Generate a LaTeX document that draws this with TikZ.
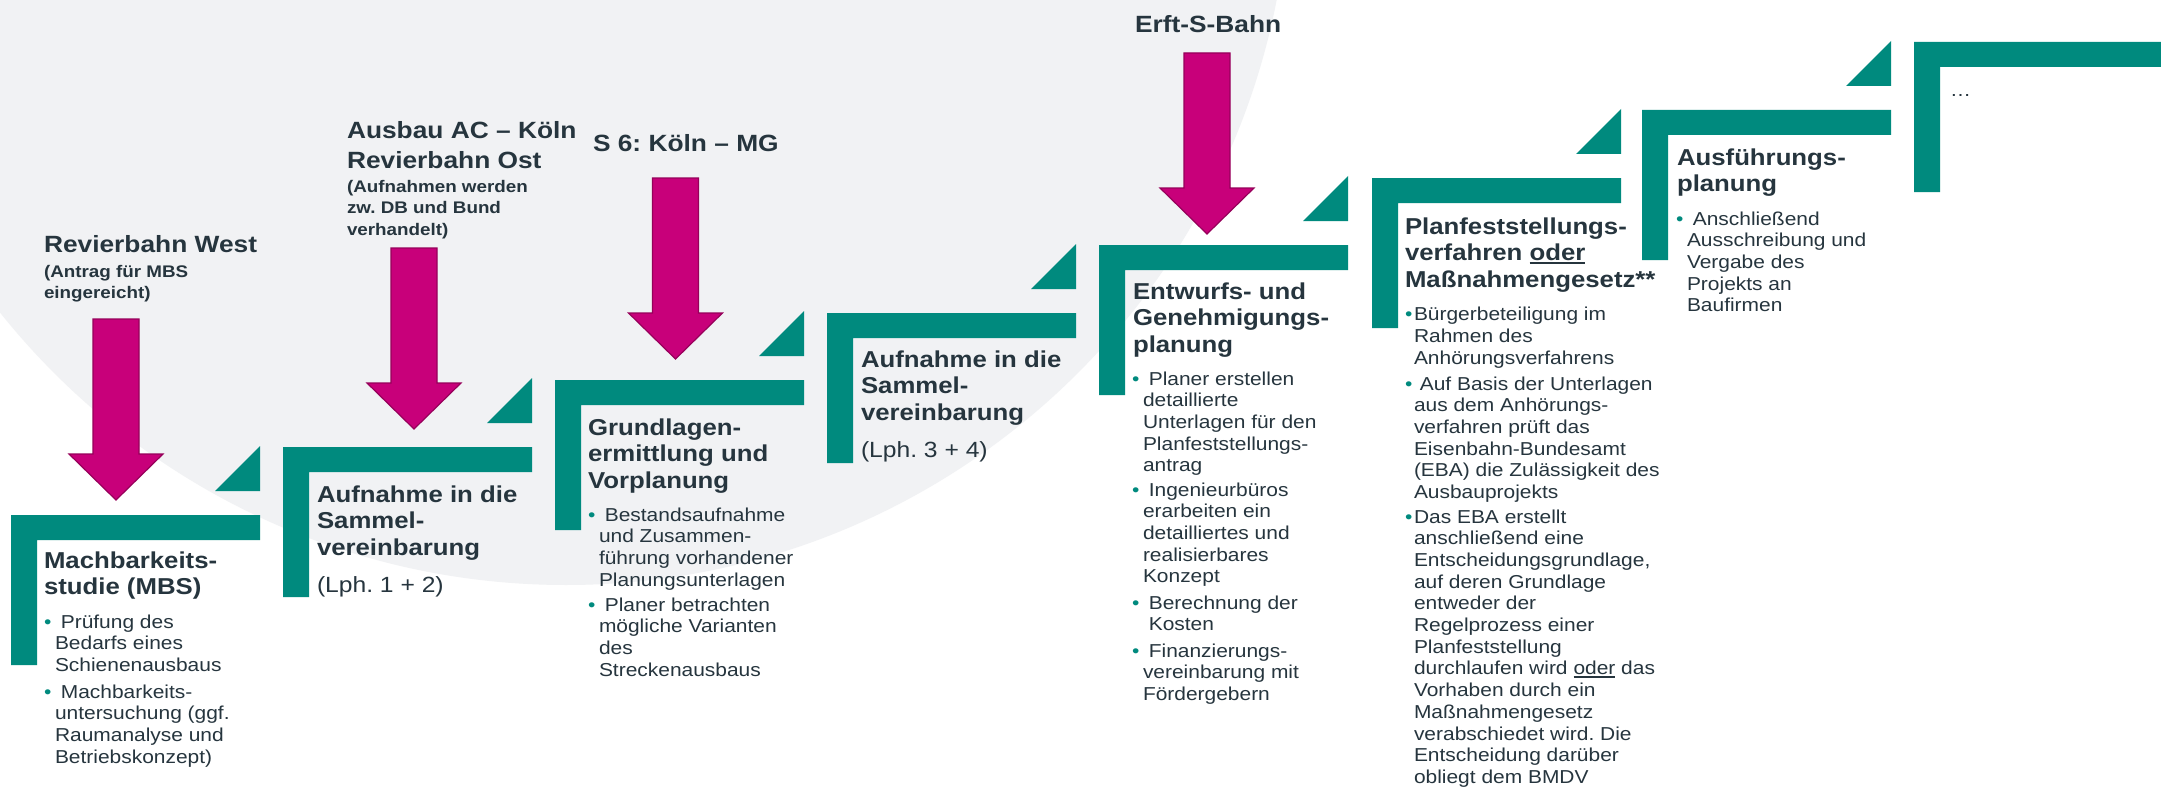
\documentclass[tikz,border=0pt]{standalone}
\usepackage{fontspec}
\setmainfont{Liberation Sans}[FakeStretch=1.12]
\frenchspacing
\definecolor{stepteal}{RGB}{0,138,126}
\definecolor{arrmag}{RGB}{200,0,122}
\definecolor{arrmagd}{RGB}{150,0,90}
\definecolor{bggray}{RGB}{241,242,244}
\definecolor{ink}{RGB}{38,53,62}
\newcommand\bul{\llap{\textcolor{stepteal}{•}\hspace{3.5pt}}}
\newcommand\bulb{\llap{\textcolor{stepteal}{•}\hspace{1.5pt}}}
\newcommand\ulw[2]{\setbox0\hbox{#2}\rlap{\rule[-3pt]{\wd0}{#1}}\box0\relax}
\tikzset{
  txt/.style={anchor=base west, align=left, inner sep=0pt, outer sep=0pt, text=ink},
  ttl/.style={txt, font=\bfseries\fontsize{23}{26.5}\selectfont},
  bdy/.style={txt, font=\fontsize{18.7}{21.7}\selectfont},
  lph/.style={txt, font=\fontsize{22}{26}\selectfont},
  hdr/.style={txt, font=\bfseries\fontsize{23.5}{30}\selectfont},
  sub/.style={txt, font=\bfseries\fontsize{16.8}{21.5}\selectfont},
  stepbar/.style={fill=stepteal},
  blockarr/.style={fill=arrmag, draw=arrmagd, line width=1.2pt, line join=miter},
}
\newcommand\stepshape[1]{%
  \fill[stepbar] (#1) -- ++(249,0) -- ++(0,25) -- ++(-223,0) -- ++(0,125) -- ++(-26,0) -- cycle;}
\newcommand\steptri[1]{%
  \fill[stepbar] ([shift={(204,-24)}]#1) -- ++(45,0) -- ++(0,-45) -- cycle;}
\newcommand\blockarrow[1]{%
  \draw[blockarr] ([shift={(-23,0)}]#1) -- ++(46,0) -- ++(0,135) -- ++(24,0) -- ++(-47,46) -- ++(-47,-46) -- ++(24,0) -- cycle;}
\begin{document}
\begin{tikzpicture}[x=1pt,y=-1pt]
\useasboundingbox (0,0) rectangle (2161,789);
\begin{scope}
  \clip (0,0) rectangle (2161,789);
  \fill[white] (0,0) rectangle (2161,789);
  \fill[bggray] (566,-139) circle [radius=724];
\end{scope}

% step origins (top-left corner of each bracket)
\coordinate (s1) at (11,515);
\coordinate (s2) at (283,447);
\coordinate (s3) at (555,380);
\coordinate (s4) at (827,313);
\coordinate (s5) at (1099,245);
\coordinate (s6) at (1372,178);
\coordinate (s7) at (1642,110);
\coordinate (s8) at (1914,42);

\begin{scope}
  \clip (0,0) rectangle (2161,789);
  \stepshape{s1}\steptri{s1}
  \stepshape{s2}\steptri{s2}
  \stepshape{s3}\steptri{s3}
  \stepshape{s4}\steptri{s4}
  \stepshape{s5}\steptri{s5}
  \stepshape{s6}\steptri{s6}
  \stepshape{s7}\steptri{s7}
  \fill[stepbar] (s8) -- ++(300,0) -- ++(0,25) -- ++(-274,0) -- ++(0,125) -- ++(-26,0) -- cycle;
\end{scope}

% headers (anchor = baseline of the last line)
\node[hdr] (h1) at (44,252) {Revierbahn West};
\node[sub] (h1s) at (44,298.5) {(Antrag für MBS\\eingereicht)};
\node[hdr] (h2) at (347,168) {Ausbau AC – Köln\\Revierbahn Ost};
\node[sub] (h2s) at (347,235) {(Aufnahmen werden\\zw. DB und Bund\\verhandelt)};
\node[hdr] (h3) at (593,152) {S 6: Köln – MG};
\node[hdr] (h4) at (1135,33) {Erft-S-Bahn};

% block arrows
\coordinate (a1) at (116,319);
\coordinate (a2) at (414,248);
\coordinate (a3) at (675.5,178);
\coordinate (a4) at (1207,53);
\blockarrow{a1}
\blockarrow{a2}
\blockarrow{a3}
\blockarrow{a4}

% step 1
\node[ttl] (t1) at ([shift={(33,79.5)}]s1) {Machbarkeits-\\studie (MBS)};
\node[bdy] (b1a) at (55,671.4) {\bul~Prüfung des\\Bedarfs eines\\Schienenausbaus};
\node[bdy] (b1b) at (55,763.1) {\bul~Machbarkeits-\\untersuchung (ggf.\\Raumanalyse und\\Betriebskonzept)};

% step 2
\node[ttl] (t2) at ([shift={(34,108)}]s2) {Aufnahme in die\\Sammel-\\vereinbarung};
\node[lph] (l2) at ([shift={(34,145)}]s2) {(Lph. 1 + 2)};

% step 3
\node[ttl] (t3) at ([shift={(33,108)}]s3) {Grundlagen-\\ermittlung und\\Vorplanung};
\node[bdy] (b3a) at (599,586.1) {\bul~Bestandsaufnahme\\und Zusammen-\\führung vorhandener\\Planungsunterlagen};
\node[bdy] (b3b) at (599,676.1) {\bul~Planer betrachten\\mögliche Varianten\\des\\Streckenausbaus};

% step 4
\node[ttl] (t4) at ([shift={(34,107)}]s4) {Aufnahme in die\\Sammel-\\vereinbarung};
\node[lph] (l4) at ([shift={(34,144)}]s4) {(Lph. 3 + 4)};

% step 5
\node[ttl] (t5) at ([shift={(34,107)}]s5) {Entwurfs- und\\Genehmigungs-\\planung};
\node[bdy] (b5a) at (1143,471.8) {\bul~Planer erstellen\\detaillierte\\Unterlagen für den\\Planfeststellungs-\\antrag};
\node[bdy] (b5b) at (1143,582.8) {\bul~Ingenieurbüros\\erarbeiten ein\\detailliertes und\\realisierbares\\Konzept};
\node[bdy] (b5c) at (1143,630.7) {\bul~Berechnung der\\~Kosten};
\node[bdy] (b5d) at (1143,700.4) {\bul~Finanzierungs-\\vereinbarung mit\\Fördergebern};

% step 6
\node[ttl] (t6) at ([shift={(33,109)}]s6) {Planfeststellungs-\\verfahren \ulw{2pt}{oder}\\Maßnahmengesetz**};
\node[bdy] (b6a) at (1414,364) {\bulb Bürgerbeteiligung im\\Rahmen des\\Anhörungsverfahrens};
\node[bdy] (b6b) at (1414,498.5) {\bulb~Auf Basis der Unterlagen\\aus dem Anhörungs-\\verfahren prüft das\\Eisenbahn-Bundesamt\\(EBA) die Zulässigkeit des\\Ausbauprojekts};
\node[bdy] (b6c) at (1414,783.4) {\bulb Das EBA erstellt\\anschließend eine\\Entscheidungsgrundlage,\\auf deren Grundlage\\entweder der\\Regelprozess einer\\Planfeststellung\\durchlaufen wird \ulw{1.5pt}{oder} das\\Vorhaben durch ein\\Maßnahmengesetz\\verabschiedet wird. Die\\Entscheidung darüber\\obliegt dem BMDV};

% step 7
\node[ttl] (t7) at ([shift={(35,81.5)}]s7) {Ausführungs-\\planung};
\node[bdy] (b7a) at (1687,311.8) {\bul~Anschließend\\Ausschreibung und\\Vergabe des\\Projekts an\\Baufirmen};

% step 8
\node[bdy] (t8) at ([shift={(36,55)}]s8) {…};
\end{tikzpicture}
\end{document}
